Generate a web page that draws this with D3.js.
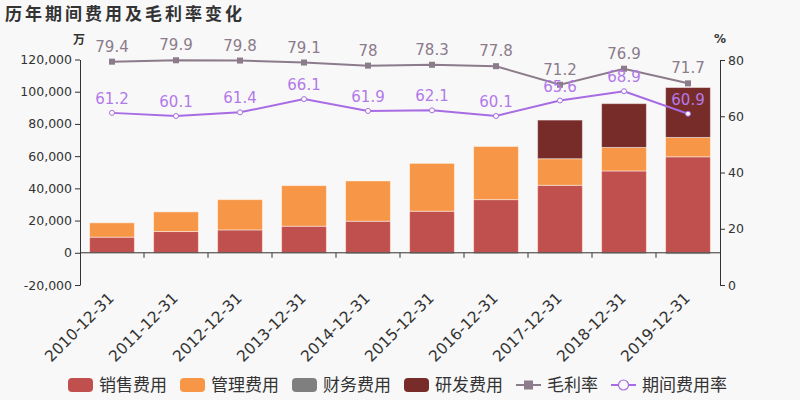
<!DOCTYPE html>
<html><head><meta charset="utf-8">
<script src="https://cdn.jsdelivr.net/npm/d3@7/dist/d3.min.js"></script>
<style>
html,body{margin:0;padding:0;background:#f8f8f8;}
text{font-family:"DejaVu Sans","Noto Sans CJK SC",sans-serif;}
</style></head>
<body><svg id="c" width="800" height="400"></svg>
<script>
const categories = ["2010-12-31","2011-12-31","2012-12-31","2013-12-31","2014-12-31","2015-12-31","2016-12-31","2017-12-31","2018-12-31","2019-12-31"];
const salesExp   = [9700, 13200, 14200, 16500, 19600, 25800, 33000, 41900, 50800, 59600];
const adminExp   = [8900, 12200, 18800, 25200, 25000, 29700, 33000, 16500, 14600, 12000];
const financeExp = [-200, -200, -200, -300, -700, -700, -600, -500, -600, -800];
const rndExp     = [0, 0, 0, 0, 0, 0, 0, 24000, 27200, 31000];
const grossMargin = [79.4, 79.9, 79.8, 79.1, 78, 78.3, 77.8, 71.2, 76.9, 71.7];
const periodRate  = [61.2, 60.1, 61.4, 66.1, 61.9, 62.1, 60.1, 65.6, 68.9, 60.9];
const leftTicks  = [-20000, 0, 20000, 40000, 60000, 80000, 100000, 120000];
const rightTicks = [0, 20, 40, 60, 80];
const seriesNames = ["销售费用","管理费用","财务费用","研发费用"];
const lineNames = ["毛利率","期间费用率"];

const colors = {"销售费用":"#c0504d","管理费用":"#f79646","财务费用":"#7f7f7f","研发费用":"#772c2a"};
const gmColor = "#8b7b8b", prColor = "#a76ce3", prLabel = "#b27ae8";

const svg = d3.select("#c");
const L = 80, R = 720;
const x = d3.scaleBand().domain(categories).range([L, R]).padding(0);
const yL = d3.scaleLinear().domain([-20000, 120000]).range([285, 59.5]);
const yR = d3.scaleLinear().domain([0, 80]).range([285, 60]);

// title
svg.append("text").attr("x", 5).attr("y", 20).text("历年期间费用及毛利率变化")
  .style("font-family","'Noto Sans CJK SC',sans-serif").style("font-weight","bold")
  .style("font-size","17px").style("letter-spacing","3px").attr("fill","#333");

// unit labels
svg.append("text").attr("x", 79).attr("y", 44).attr("text-anchor","middle").text("万")
  .style("font-family","'Noto Sans CJK SC',sans-serif").style("font-weight","bold").style("font-size","12px").attr("fill","#333");
svg.append("text").attr("x", 720).attr("y", 43).attr("text-anchor","middle").text("%")
  .style("font-weight","bold").style("font-size","12px").attr("fill","#333");

// stacked bars
const rows = categories.map((c,i)=>({cat:c,"销售费用":salesExp[i],"管理费用":adminExp[i],"财务费用":financeExp[i],"研发费用":rndExp[i]}));
const stack = d3.stack().keys(seriesNames).offset(d3.stackOffsetDiverging);
const stacked = stack(rows);
const bw = x.bandwidth()*0.7;
const gBars = svg.append("g");
stacked.forEach(s=>{
  gBars.selectAll(null).data(s).enter().append("rect")
    .attr("x", d=>x(d.data.cat)+(x.bandwidth()-bw)/2)
    .attr("width", bw)
    .attr("y", d=>yL(Math.max(d[0],d[1])))
    .attr("height", d=>Math.abs(yL(d[0])-yL(d[1])))
    .attr("fill", colors[s.key])
    .attr("stroke","rgba(255,255,255,0.45)").attr("stroke-width",1);
});

// left axis
const fmt = d3.format(",");
const axL = d3.axisLeft(yL).tickValues(leftTicks).tickFormat(d=>fmt(d).replace("\u2212","-")).tickSize(5).tickSizeOuter(0).tickPadding(3);
const gL = svg.append("g").attr("transform",`translate(${L},0)`).call(axL);
gL.selectAll("text").style("font-size","12.5px").attr("fill","#333");
gL.selectAll("line,path").attr("stroke","#333");

// right axis
const axR = d3.axisRight(yR).tickValues(rightTicks).tickSize(5).tickSizeOuter(0).tickPadding(3);
const gR = svg.append("g").attr("transform",`translate(${R},0)`).call(axR);
gR.selectAll("text").style("font-size","12.5px").attr("fill","#333");
gR.selectAll("line,path").attr("stroke","#333");

// x axis at zero
const y0 = yL(0);
const gX = svg.append("g");
gX.append("line").attr("x1",L).attr("x2",R).attr("y1",y0).attr("y2",y0).attr("stroke","#333");
gX.selectAll(null).data(categories.slice(1)).enter().append("line")
  .attr("x1",d=>x(d)).attr("x2",d=>x(d)).attr("y1",y0).attr("y2",y0+5).attr("stroke","#333");
gX.selectAll(null).data(categories).enter().append("text")
  .attr("transform",d=>`translate(${x(d)+x.bandwidth()/2+3},${299}) rotate(-45)`)
  .attr("text-anchor","end").style("font-size","15.5px").attr("fill","#333").text(d=>d);

// lines
const cx = c => x(c)+x.bandwidth()/2;
const gmLine = d3.line().x((d,i)=>cx(categories[i])).y(d=>yR(d));
svg.append("path").datum(grossMargin).attr("d",gmLine).attr("fill","none").attr("stroke",gmColor).attr("stroke-width",2);
svg.selectAll(null).data(grossMargin).enter().append("rect")
  .attr("x",(d,i)=>cx(categories[i])-3).attr("y",d=>yR(d)-3).attr("width",6).attr("height",6).attr("fill",gmColor);
svg.append("path").datum(periodRate).attr("d",gmLine).attr("fill","none").attr("stroke",prColor).attr("stroke-width",2);
svg.selectAll(null).data(periodRate).enter().append("circle")
  .attr("cx",(d,i)=>cx(categories[i])).attr("cy",d=>yR(d)).attr("r",2.5).attr("fill","#fff").attr("stroke",prColor).attr("stroke-width",1);

svg.selectAll(null).data(grossMargin).enter().append("text")
  .attr("x",(d,i)=>cx(categories[i])).attr("y",d=>yR(d)-10).attr("text-anchor","middle")
  .style("font-size","15px").attr("fill",gmColor).text(d=>d);
svg.selectAll(null).data(periodRate).enter().append("text")
  .attr("x",(d,i)=>cx(categories[i])).attr("y",d=>yR(d)-9).attr("text-anchor","middle")
  .style("font-size","15px").attr("fill",prLabel).text(d=>d);

// legend
const lg = svg.append("g");
let lx = 68; const ly = 385;
const items = seriesNames.map(n=>({name:n,type:"bar"})).concat([{name:lineNames[0],type:"gm"},{name:lineNames[1],type:"pr"}]);
items.forEach(it=>{
  if(it.type==="bar"){
    lg.append("rect").attr("x",lx).attr("y",ly-7).attr("width",25).attr("height",14).attr("rx",4).attr("fill",colors[it.name]);
  } else if(it.type==="gm"){
    lg.append("line").attr("x1",lx).attr("x2",lx+25).attr("y1",ly).attr("y2",ly).attr("stroke",gmColor).attr("stroke-width",2);
    lg.append("rect").attr("x",lx+8).attr("y",ly-4.5).attr("width",9).attr("height",9).attr("fill",gmColor);
  } else {
    lg.append("line").attr("x1",lx).attr("x2",lx+25).attr("y1",ly).attr("y2",ly).attr("stroke",prColor).attr("stroke-width",2);
    lg.append("circle").attr("cx",lx+12.5).attr("cy",ly).attr("r",5).attr("fill","#f8f8f8").attr("stroke",prColor).attr("stroke-width",1.2);
  }
  const t = lg.append("text").attr("x",lx+31).attr("y",ly+6).text(it.name)
    .style("font-family","'Noto Sans CJK SC',sans-serif").style("font-size","17px").attr("fill","#333");
  lx += 31 + t.node().getComputedTextLength() + 13;
});
</script></body></html>
